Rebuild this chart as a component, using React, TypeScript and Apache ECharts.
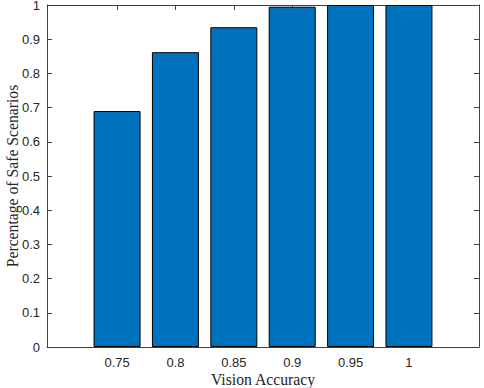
import React, { useEffect, useRef } from "react";
import * as echarts from "echarts";

const categories = [0.75, 0.8, 0.85, 0.9, 0.95, 1];
const safeRatio = [0.69, 0.862, 0.935, 0.995, 1, 1];
const xTitle = "Vision Accuracy";
const yTitle = "Percentage of Safe Scenarios";

const axisColor = "#404040";
const textColor = "#262626";

export default function App() {
  const ref = useRef<HTMLDivElement>(null);
  useEffect(() => {
    const chart = echarts.init(ref.current!, null, { renderer: "svg" });
    const lineStyle = { color: axisColor, width: 1 };
    chart.setOption({
      animation: false,
      backgroundColor: "#ffffff",
      grid: {
        left: 47,
        top: 5,
        right: 5,
        bottom: 41,
        containLabel: false,
        outerBoundsMode: "none",
      },
      xAxis: [
        {
          type: "value",
          min: 0.69,
          max: 1.06,
          position: "bottom",
          name: xTitle,
          nameLocation: "middle",
          nameGap: 24,
          nameMoveOverlap: false,
          nameTextStyle: { fontFamily: "Liberation Serif", fontSize: 15.7, color: textColor },
          axisLine: { show: true, onZero: false, lineStyle },
          axisTick: { show: true, inside: true, length: 5, lineStyle, customValues: categories },
          axisLabel: {
            show: true,
            customValues: categories,
            formatter: (v: number) => String(v),
            fontFamily: "Liberation Sans",
            fontSize: 13,
            color: textColor,
            margin: 9,
          },
          splitLine: { show: false },
        },
        {
          type: "value",
          min: 0.69,
          max: 1.06,
          position: "top",
          axisLine: { show: true, onZero: false, lineStyle },
          axisTick: { show: true, inside: true, length: 5, lineStyle, customValues: categories },
          axisLabel: { show: false },
          splitLine: { show: false },
        },
      ],
      yAxis: [
        {
          type: "value",
          min: 0,
          max: 1,
          interval: 0.1,
          position: "left",
          name: yTitle,
          nameLocation: "middle",
          nameGap: 27,
          nameMoveOverlap: false,
          nameTextStyle: { fontFamily: "Liberation Serif", fontSize: 15.7, color: textColor },
          axisLine: { show: true, lineStyle },
          axisTick: { show: true, inside: true, length: 5, lineStyle },
          axisLabel: {
            fontFamily: "Liberation Sans",
            fontSize: 13,
            color: textColor,
            margin: 7,
          },
          splitLine: { show: false },
        },
        {
          type: "value",
          min: 0,
          max: 1,
          interval: 0.1,
          position: "right",
          axisLine: { show: true, lineStyle },
          axisTick: { show: true, inside: true, length: 5, lineStyle },
          axisLabel: { show: false },
          splitLine: { show: false },
        },
      ],
      series: [
        {
          type: "bar",
          xAxisIndex: 0,
          yAxisIndex: 0,
          data: categories.map((c, i) => [c, safeRatio[i]]),
          barWidth: 47,
          itemStyle: { color: "#0072BD", borderColor: "#000000", borderWidth: 1 },
        },
      ],
    });
    return () => chart.dispose();
  }, []);
  return (
    <div
      ref={ref}
      style={{ position: "fixed", left: 0, top: 0, width: 484, height: 388 }}
    />
  );
}
